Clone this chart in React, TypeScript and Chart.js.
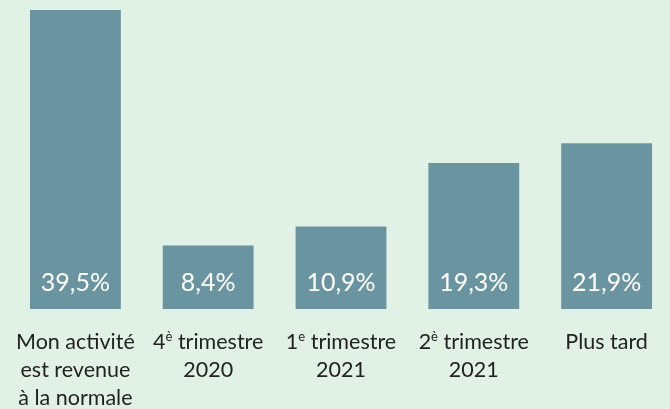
import React, { useEffect, useRef } from "react";
import { Chart, registerables } from "chart.js";

Chart.register(...registerables);

// Category labels: lines; text inside {} is drawn as superscript
const categories: string[][] = [
  ["Mon activité", "est revenue", "à la normale"],
  ["4{è} trimestre", "2020"],
  ["1{e} trimestre", "2021"],
  ["2{è} trimestre", "2021"],
  ["Plus tard"],
];
const values: number[] = [39.5, 8.4, 10.9, 19.3, 21.9];
const valueLabels: string[] = ["39,5%", "8,4%", "10,9%", "19,3%", "21,9%"];

const BG = "rgb(226,241,230)";
const BAR = "rgb(106,149,160)";
const FONT = "Lato, 'Open Sans', sans-serif";

function parseSegments(line: string): { t: string; sup: boolean }[] {
  const out: { t: string; sup: boolean }[] = [];
  const re = /\{([^}]*)\}/g;
  let last = 0;
  let m: RegExpExecArray | null;
  while ((m = re.exec(line))) {
    if (m.index > last) out.push({ t: line.slice(last, m.index), sup: false });
    out.push({ t: m[1], sup: true });
    last = m.index + m[0].length;
  }
  if (last < line.length) out.push({ t: line.slice(last), sup: false });
  return out;
}

const labelPlugin = {
  id: "customLabels",
  afterDatasetsDraw(chart: any) {
    const ctx = chart.ctx as CanvasRenderingContext2D;
    const meta = chart.getDatasetMeta(0);
    const xScale = chart.scales.x;
    const yScale = chart.scales.y;
    const base = yScale.getPixelForValue(0);
    ctx.save();
    // value labels inside bars
    ctx.fillStyle = "#ffffff";
    ctx.font = `25px ${FONT}`;
    ctx.textAlign = "center";
    ctx.textBaseline = "alphabetic";
    meta.data.forEach((bar: any, i: number) => {
      ctx.fillText(valueLabels[i], bar.x, base - 18);
    });
    // category labels
    ctx.fillStyle = "#222222";
    const normal = `21.5px ${FONT}`;
    const small = `13px ${FONT}`;
    categories.forEach((lines, i) => {
      const cx = xScale.getPixelForValue(i);
      lines.forEach((line, j) => {
        const segs = parseSegments(line);
        let total = 0;
        const widths = segs.map((s) => {
          ctx.font = s.sup ? small : normal;
          const w = ctx.measureText(s.t).width;
          total += w;
          return w;
        });
        let x = cx - total / 2;
        const y = base + 40 + j * 28;
        ctx.textAlign = "left";
        segs.forEach((s, k) => {
          ctx.font = s.sup ? small : normal;
          ctx.fillText(s.t, x, s.sup ? y - 8 : y);
          x += widths[k];
        });
      });
    });
    ctx.restore();
  },
};

export default function App() {
  const ref = useRef<HTMLCanvasElement | null>(null);
  useEffect(() => {
    if (!ref.current) return;
    const chart = new Chart(ref.current, {
      type: "bar",
      data: {
        labels: categories.map((c) => c.join(" ")),
        datasets: [
          {
            data: values,
            backgroundColor: BAR,
            borderWidth: 0,
            categoryPercentage: 1,
            barPercentage: 0.684,
          },
        ],
      },
      options: {
        animation: false,
        responsive: true,
        maintainAspectRatio: false,
        layout: { padding: { left: 9, right: 3, top: 10, bottom: 100 } },
        plugins: { legend: { display: false }, tooltip: { enabled: false } },
        scales: {
          x: { display: false },
          y: { display: false, min: 0, max: 39.5 },
        },
      },
      plugins: [labelPlugin],
    });
    return () => chart.destroy();
  }, []);
  return (
    <div style={{ position: "fixed", inset: 0, background: BG, overflow: "hidden" }}>
      <div style={{ position: "absolute", left: 0, top: 0, width: 676, height: 409 }}>
        <canvas ref={ref} />
      </div>
    </div>
  );
}
